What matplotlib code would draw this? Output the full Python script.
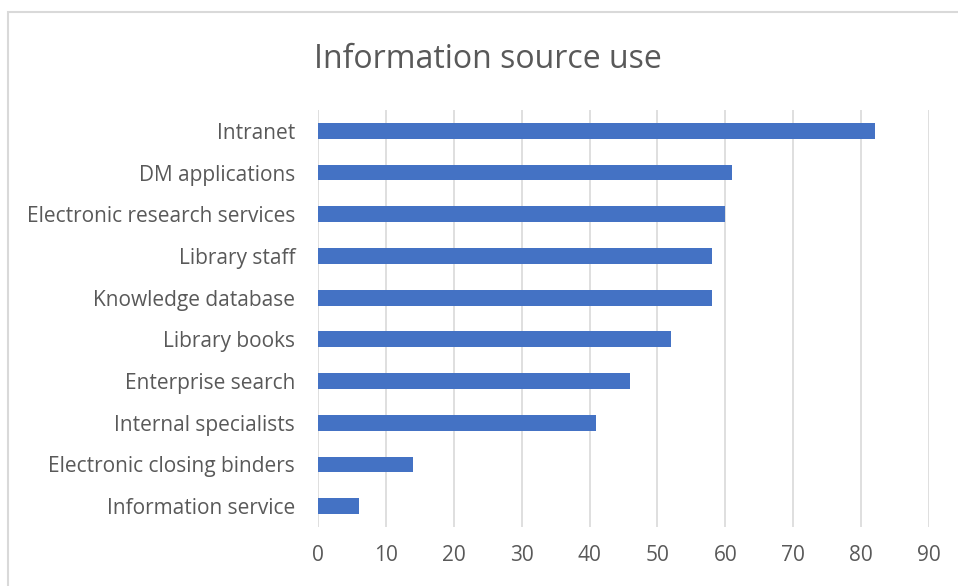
import matplotlib.pyplot as plt
from matplotlib.patches import Rectangle

# survey counts per information source
sources = [
    "Intranet",
    "DM applications",
    "Electronic research services",
    "Library staff",
    "Knowledge database",
    "Library books",
    "Enterprise search",
    "Internal specialists",
    "Electronic closing binders",
    "Information service",
]
counts = [82, 61, 60, 58, 58, 52, 46, 41, 14, 6]
x_ticks = [0, 10, 20, 30, 40, 50, 60, 70, 80, 90]

BAR_COLOR = "#4472C4"
TEXT_COLOR = "#595959"
GRID_COLOR = "#D9D9D9"


def main():
    plt.rcParams["font.family"] = ["Open Sans", "DejaVu Sans"]
    fig = plt.figure(figsize=(9.58, 5.86), dpi=100)

    # chart frame
    fig.patches.append(Rectangle((8 / 958, -0.02), 1.0, 1 - 12 / 586 + 0.02,
                                 transform=fig.transFigure, fill=False,
                                 edgecolor="#D9D9D9", linewidth=1.5))

    ax = fig.add_axes([318 / 958, 1 - 527 / 586, (929 - 318) / 958, (527 - 110) / 586])
    ypos = list(range(len(sources)))[::-1]
    ax.barh(ypos, counts, height=0.38, color=BAR_COLOR, zorder=3)

    ax.set_xlim(0, 90)
    ax.set_ylim(-0.5, len(sources) - 0.5)
    ax.set_xticks(x_ticks)
    ax.set_yticks(ypos)
    ax.set_yticklabels(sources)
    ax.grid(axis="x", color=GRID_COLOR, linewidth=1.2, zorder=0)
    for s in ax.spines.values():
        s.set_visible(False)
    ax.tick_params(axis="both", length=0, colors=TEXT_COLOR, labelsize=15)
    ax.tick_params(axis="y", pad=16.5)
    ax.tick_params(axis="x", pad=13)

    fig.text(488 / 958, 1 - 59 / 586, "Information source use", ha="center",
             va="center", fontsize=23, color=TEXT_COLOR)

    fig.savefig("out.png", dpi=100)


if __name__ == "__main__":
    main()
